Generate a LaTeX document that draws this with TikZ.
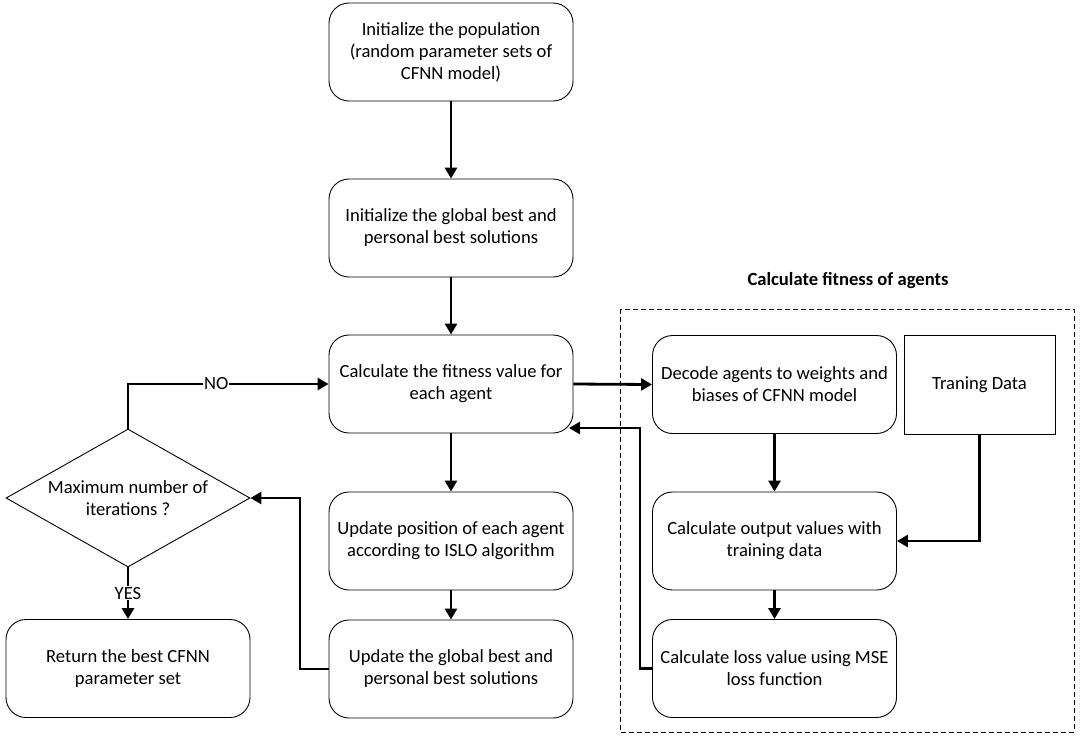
\documentclass[tikz,border=0pt]{standalone}
\usepackage{fontspec}
\setmainfont{Carlito}
\usetikzlibrary{arrows.meta,shapes.geometric}
\begin{document}
\begin{tikzpicture}[x=1pt,y=-1pt,
  every node/.style={font=\fontsize{18.6}{22}\selectfont, align=center, inner sep=0pt},
  rbox/.style={draw, line width=0.9pt, rounded corners=20pt, minimum width=244pt, minimum height=98pt},
  sbox/.style={draw, line width=0.9pt, minimum width=151pt, minimum height=99pt},
  dec/.style={draw, line width=0.9pt, diamond, aspect=1.768, minimum width=244pt, minimum height=138pt, inner sep=0pt},
  flow/.style={line width=2.8pt, -{Triangle[length=11pt,width=12pt]}}
]
\useasboundingbox (0,0) rectangle (1080,740);

% main column
\node[rbox] (init) at (451,52) {Initialize the population\\(random parameter sets of\\CFNN model)};
\node[rbox] (gbest) at (451,228) {Initialize the global best and\\personal best solutions};
\node[rbox] (fit) at (451,384) {Calculate the fitness value for\\each agent};
\node[rbox] (upd) at (451,541) {Update position of each agent\\according to ISLO algorithm};
\node[rbox] (ugb) at (451,669) {Update the global best and\\personal best solutions};

% termination test
\node[dec] (stop) at (128,498) {};
\node (stoptxt) at (128,498) {Maximum number of\\iterations ?};
\node[rbox] (ret) at (128,668.5) {Return the best CFNN\\parameter set};

% fitness evaluation group
\draw[line width=0.9pt, dash pattern=on 5pt off 3pt] (620,309) rectangle (1074,732);
\node[font=\bfseries\fontsize{18.6}{22}\selectfont] (grp) at (848,281) {Calculate fitness of agents};
\node[rbox] (decode) at (774.5,384.5) {Decode agents to weights and\\biases of CFNN model};
\node[sbox] (data) at (979.5,384.5) {Traning Data};
\node[rbox] (out) at (774.5,541) {Calculate output values with\\training data};
\node[rbox] (loss) at (774.5,668.5) {Calculate loss value using MSE\\loss function};

% connectors
\draw[flow] (init) -- (gbest);
\draw[flow] (gbest) -- (fit);
\draw[flow] (fit) -- (upd);
\draw[flow] (upd) -- (ugb);
\draw[flow] (fit.east) -- (decode.west);
\draw[flow] (decode) -- (out);
\draw[flow] (out) -- (loss);
\draw[flow] (data.south) |- (out.east);
\coordinate (back) at (569,428);
\draw[flow] (loss.west) -| (640,428) -- (back);
\draw[flow] (ugb.west) -| (300,498) -- (stop.east);
\draw[flow] (stop.north) |- (fit.west) node[pos=0.72, fill=white, inner xsep=1pt] {NO};
\draw[flow] (stop.south) -- (ret.north) node[midway, fill=white, inner ysep=1pt] {YES};
\end{tikzpicture}
\end{document}
